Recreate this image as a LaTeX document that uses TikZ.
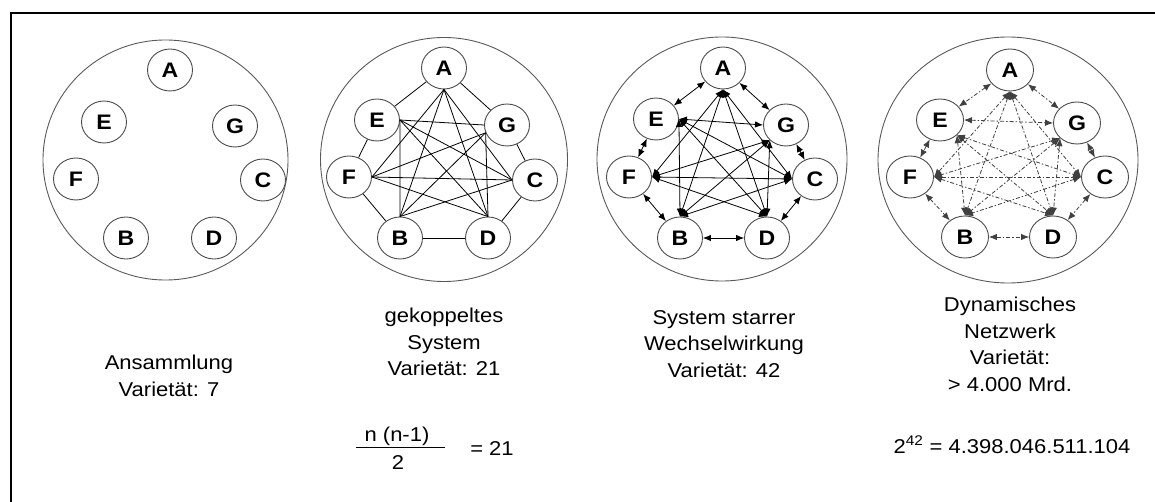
\documentclass[tikz,border=0pt]{standalone}
\usepackage{fontspec}
\setmainfont{Liberation Sans}[FakeStretch=1.1]
\usetikzlibrary{arrows.meta,shapes.geometric}

\begin{document}
\begin{tikzpicture}[
  x=1pt, y=-1pt,
  elem/.style={ellipse,draw=black!70,line width=0.9pt,fill=white,inner sep=0pt,minimum width=45pt,minimum height=42pt,font=\bfseries\fontsize{21}{24}\selectfont},
  hull/.style={ellipse,draw=black!65,line width=0.9pt,inner sep=0pt},
  lbl/.style={align=center,inner sep=0pt,anchor=north,font=\fontsize{20}{26.5}\selectfont},
  txt/.style={inner sep=0pt,anchor=base,font=\fontsize{20}{23}\selectfont},
  link/.style={line width=0.8pt},
  wlink/.style={{Latex[length=8pt,width=6.5pt]}-{Latex[length=8pt,width=6.5pt]},line width=0.8pt},
  dlink/.style={wlink,draw=black!75,line width=0.8pt,dash pattern=on 4pt off 2pt on 1.5pt off 2pt}
]
\useasboundingbox (0,0) rectangle (1155,502);
\draw[line width=1.2pt] (1155,13) -- (11,13) -- (11,502);

% outer circles
\node[hull,minimum width=245pt,minimum height=240pt] (ring1) at (165.5,160) {};
\node[hull,minimum width=247pt,minimum height=244pt] (ring2) at (444,159.5) {};
\node[hull,minimum width=250pt,minimum height=244pt] (ring3) at (722,159) {};
\node[hull,minimum width=260pt,minimum height=246pt] (ring4) at (1008,160) {};

% Ansammlung
\node[elem] (A1) at (170,70) {A};
\node[elem] (E1) at (104,122) {E};
\node[elem] (G1) at (235,126) {G};
\node[elem] (F1) at (76,179) {F};
\node[elem] (C1) at (263,180) {C};
\node[elem] (B1) at (126,238) {B};
\node[elem] (D1) at (214,238) {D};

% gekoppeltes System
\node[elem] (A2) at (444,68) {A};
\node[elem] (E2) at (377,120) {E};
\node[elem] (G2) at (507,125) {G};
\node[elem] (F2) at (349,177) {F};
\node[elem] (C2) at (535,180) {C};
\node[elem] (B2) at (400,238) {B};
\node[elem] (D2) at (488,238) {D};

% starre Wechselwirkung
\node[elem] (A3) at (723,68) {A};
\node[elem] (E3) at (656,119) {E};
\node[elem] (G3) at (786,125) {G};
\node[elem] (F3) at (629,177) {F};
\node[elem] (C3) at (815,179) {C};
\node[elem] (B3) at (680,238) {B};
\node[elem] (D3) at (767,238) {D};

% dynamisches Netzwerk
\node[elem,minimum width=47pt] (A4) at (1010,70) {A};
\node[elem,minimum width=47pt] (E4) at (940,120) {E};
\node[elem,minimum width=47pt] (G4) at (1077,123) {G};
\node[elem,minimum width=47pt] (F4) at (910,177) {F};
\node[elem,minimum width=47pt] (C4) at (1105,177) {C};
\node[elem,minimum width=47pt] (B4) at (965,237) {B};
\node[elem,minimum width=47pt] (D4) at (1053,237) {D};

% ring
\foreach \a/\b in {A/E,A/G,E/F,G/C,F/B,C/D,B/D} {
  \draw[link] (\a2) -- (\b2);
  \draw[wlink] (\a3) -- (\b3);
  \draw[dlink] (\a4) -- (\b4);
}
% chords
\foreach \a/\aa/\b/\bb in {A/south/F/east,A/south/C/west,A/south/B/north,A/south/D/north,
    E/east/G/west,E/east/C/west,E/east/B/north,E/east/D/north,
    G/200/F/east,G/200/B/north,G/200/D/north,F/east/C/west,F/east/D/north,C/west/B/north}
  \draw[link] (\a2.\aa) -- (\b2.\bb);
\foreach \a/\aa/\b/\bb in {A/south/F/east,A/south/C/west,A/south/B/north,A/south/D/north,
    E/east/G/west,E/east/C/west,E/east/B/north,E/east/D/north,
    G/south west/F/east,G/south west/B/north,G/south west/D/north,F/east/C/west,F/east/D/north,C/west/B/north}
  \draw[wlink] (\a3.\aa) -- (\b3.\bb);
\foreach \a/\aa/\b/\bb in {A/south/F/east,A/south/C/west,A/south/B/north,A/south/D/north,
    E/east/G/west,E/south east/C/west,E/south east/B/north,E/south east/D/north,
    G/south west/F/east,G/south west/B/north,G/south west/D/north,F/east/C/west,F/east/D/north,C/west/B/north}
  \draw[dlink] (\a4.\aa) -- (\b4.\bb);

% labels
\node[lbl] (lbl1) at (169,355) {Ansammlung\\Varietät: 7};
\node[lbl] (lbl2) at (444,308) {gekoppeltes\\System\\Varietät: 21};
\node[lbl] (lbl3) at (724,310) {System starrer\\Wechselwirkung\\Varietät: 42};
\node[lbl] (lbl4) at (1010,297) {Dynamisches\\Netzwerk\\Varietät:\\> 4.000 Mrd.};

\node[txt] (num) at (397,441) {n (n-1)};
\node[txt] (den) at (398,469) {2};
\draw[line width=0.8pt] (356,447) -- (445,447);
\node[txt] (res21) at (492,455) {= 21};
\node[txt] (res42) at (1012,453) {2\textsuperscript{42} = 4.398.046.511.104};
\end{tikzpicture}
\end{document}
